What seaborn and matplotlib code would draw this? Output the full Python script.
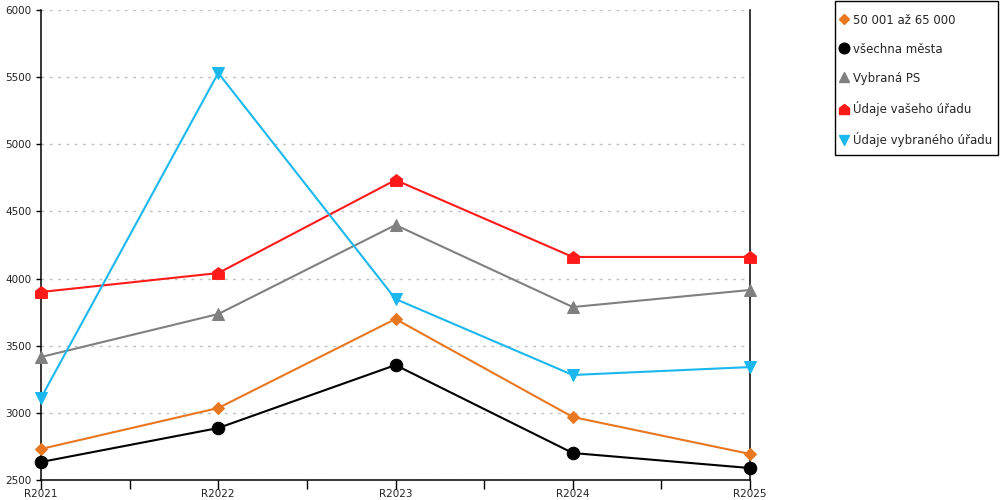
import numpy as np
import pandas as pd
import seaborn as sns
import matplotlib.pyplot as plt
from matplotlib.lines import Line2D
from matplotlib.patches import Rectangle
from matplotlib.ticker import MultipleLocator

years = ["R2021", "R2022", "R2023", "R2024", "R2025"]
series_names = ["50 001 až 65 000", "všechna města", "Vybraná PS",
                "Údaje vašeho úřadu", "Údaje vybraného úřadu"]
orange_vals = [2731, 3036, 3699, 2969, 2694]
black_vals = [2634, 2887, 3356, 2701, 2589]
gray_vals = [3416, 3736, 4399, 3788, 3915]
red_vals = [3900, 4041, 4734, 4161, 4161]
blue_vals = [3111, 5531, 3848, 3282, 3341]

colors = ["#e8771f", "#000000", "#808080", "#ff1a1a", "#1ab8ee"]
# house-shaped marker for the red series
house = [(-1, -1), (1, -1), (1, 0.25), (0, 1), (-1, 0.25), (-1, -1)]
markers = ["D", "o", "^", house, "v"]
msizes = [6, 9, 8.5, 8.5, 8.5]

sns.set_style("white")
plt.rcParams['font.family'] = ['DejaVu Sans']

fig = plt.figure(figsize=(10, 5), dpi=100)
ax = fig.add_axes([0.041, 0.04, 0.709, 0.94])

all_vals = [orange_vals, black_vals, gray_vals, red_vals, blue_vals]
x = np.arange(len(years))
handles = []
for name, vals, c, m, ms in zip(series_names, all_vals, colors, markers, msizes):
    sns.lineplot(x=x, y=vals, ax=ax, color=c, marker=m, markersize=ms,
                 markeredgecolor=c, linewidth=1.5, clip_on=False, zorder=3)
    handles.append(Line2D([], [], color=c, marker=m, linestyle="none",
                          markersize=ms * 0.85, markeredgecolor=c, label=name))

ax.set_xlim(0, 4)
ax.set_ylim(2500, 6000)
ax.set_xticks(x)
ax.set_xticklabels(years)
ax.xaxis.set_minor_locator(MultipleLocator(0.5))
ax.yaxis.set_major_locator(MultipleLocator(500))
ax.grid(axis="y", color="#c0c0c0", linestyle=(0, (2, 4)), linewidth=1)
ax.grid(axis="x", visible=False)

ax.spines["top"].set_visible(False)
for s in ["left", "right", "bottom"]:
    ax.spines[s].set_color("black")
    ax.spines[s].set_linewidth(1.1)

ax.tick_params(axis="x", which="both", direction="out", length=6.5, width=1,
               color="black", labelsize=7.5, pad=0, bottom=True,
               labelcolor="#222222")
ax.tick_params(axis="y", direction="out", length=3.8, width=1, color="black",
               labelsize=7.5, pad=3, left=True, labelcolor="#222222")

# legend box drawn separately so the padding can differ horizontally/vertically
fig.patches.append(Rectangle((0.835, 0.69), 0.163, 0.308, transform=fig.transFigure,
                             fill=False, edgecolor="black", linewidth=1))
leg = fig.legend(handles=handles, loc="upper left", bbox_to_anchor=(0.8395, 0.973),
                 frameon=False, fontsize=8.5, handlelength=0.8,
                 handletextpad=0.35, labelspacing=1.36, borderpad=0,
                 borderaxespad=0)

plt.savefig("out.png", dpi=100)
